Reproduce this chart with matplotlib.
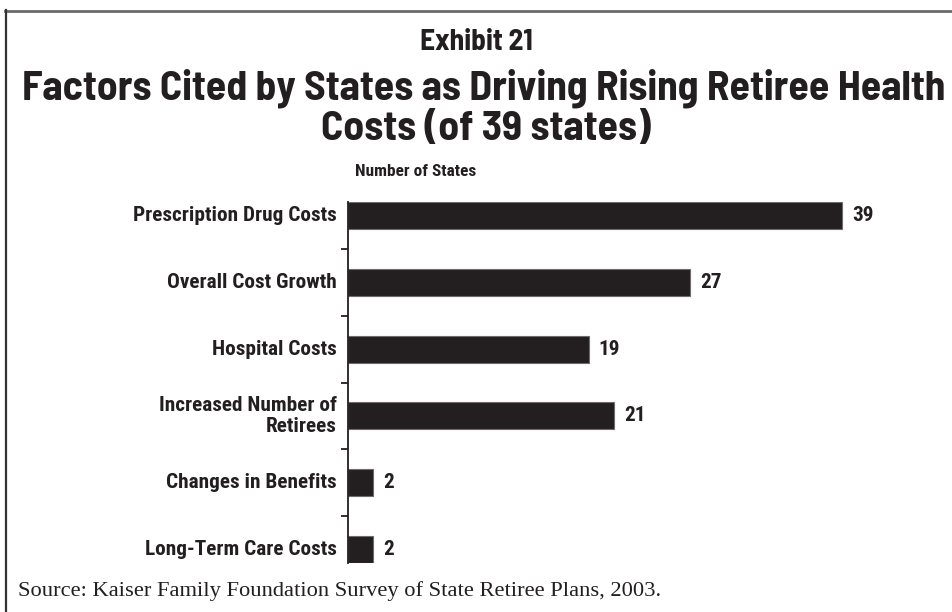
import matplotlib
matplotlib.use("Agg")
import matplotlib.pyplot as plt
from matplotlib.lines import Line2D

categories = [
    "Prescription Drug Costs",
    "Overall Cost Growth",
    "Hospital Costs",
    "Increased Number of\nRetirees",
    "Changes in Benefits",
    "Long-Term Care Costs",
]
values = [39, 27, 19, 21, 2, 2]

exhibit = "Exhibit 21"
title_lines = ["Factors Cited by States as Driving Rising Retiree Health",
               "Costs (of 39 states)"]
axis_title = "Number of States"
source = "Source: Kaiser Family Foundation Survey of State Retiree Plans, 2003."

INK = "#231f20"
HEAD = ["Barlow Semi Condensed", "DejaVu Sans"]
NARROW = ["Roboto Condensed", "DejaVu Sans"]
SERIF = ["Liberation Serif", "DejaVu Serif"]

W, H, DPI = 952, 612, 100
fig = plt.figure(figsize=(W / DPI, H / DPI), dpi=DPI)
fig.patch.set_facecolor("white")


def fx(px):
    return px / W


def fy(py):
    return 1 - py / H


renderer = fig.canvas.get_renderer()


def fit(text_obj, target_w):
    """Scale a text's font size so its rendered width equals target_w pixels."""
    for _ in range(3):
        w = text_obj.get_window_extent(renderer).width
        text_obj.set_fontsize(text_obj.get_fontsize() * target_w / w)


# Frame: top and left rules
fig.add_artist(Line2D([fx(5), fx(952)], [fy(10.5), fy(10.5)], color="#6b6b6b",
                      lw=2.0, transform=fig.transFigure))
fig.add_artist(Line2D([fx(5.5), fx(5.5)], [fy(10), fy(612)], color="#333333",
                      lw=1.6, transform=fig.transFigure))

# Titles
t0 = fig.text(fx(476), fy(42), exhibit, ha="center", va="center",
              fontsize=14, fontweight="bold", family=HEAD, color=INK)
fit(t0, 113)
t1 = fig.text(fx(483.5), fy(88), title_lines[0], ha="center", va="center",
              fontsize=24, fontweight="bold", family=HEAD, color=INK)
fit(t1, 923)
t2 = fig.text(fx(486), fy(130), title_lines[1], ha="center", va="center",
              fontsize=t1.get_fontsize(), fontweight="bold", family=HEAD,
              color=INK)

# Bar axes
ax_left, ax_right, ax_top, ax_bot = 348, 943, 202, 563
ax = fig.add_axes([fx(ax_left), fy(ax_bot), fx(ax_right - ax_left),
                   (ax_bot - ax_top) / H])
pos = list(range(len(categories)))
bars = ax.barh(pos, values, height=0.405, color=INK, edgecolor="#6d6b6c",
               linewidth=0.8)
ax.set_xlim(0, (ax_right - ax_left) / (494 / 39))
ax.set_ylim(len(categories) - 1 + 0.205, -0.205)

for s in ("top", "right", "bottom"):
    ax.spines[s].set_visible(False)
ax.spines["left"].set_color(INK)
ax.spines["left"].set_linewidth(1.3)
ax.set_xticks([])
ax.set_yticks([p + 0.5 for p in pos[:-1]])
ax.set_yticklabels([])
ax.tick_params(axis="y", length=5, width=1.3, color=INK, direction="out")

# Category labels, right-aligned against the axis
label_x = -(ax_left - 337) / (ax_right - ax_left)
label_objs = []
for p, name in zip(pos, categories):
    t = ax.text(label_x, p, name, ha="right", va="center", fontsize=13,
                fontweight="bold", family=NARROW, color=INK,
                linespacing=1.1, transform=ax.get_yaxis_transform())
    label_objs.append(t)
fit(label_objs[0], 204)
for t in label_objs[1:]:
    t.set_fontsize(label_objs[0].get_fontsize())

# Value labels at bar ends
for p, v in zip(pos, values):
    ax.annotate(str(v), (v, p), xytext=(10, 0), textcoords="offset pixels",
                ha="left", va="center", fontsize=label_objs[0].get_fontsize(),
                fontweight="bold", family=NARROW, color=INK)

# Axis caption above the bars
ta = fig.text(fx(355), fy(171), axis_title, ha="left", va="center",
              fontsize=13, fontweight="bold", family=NARROW, color=INK)
fit(ta, 121)

# Source note
ts = fig.text(fx(18), fy(591), source, ha="left", va="center", fontsize=12,
              family=SERIF, color=INK)
fit(ts, 642)

fig.savefig("out.png", dpi=DPI, facecolor="white")
